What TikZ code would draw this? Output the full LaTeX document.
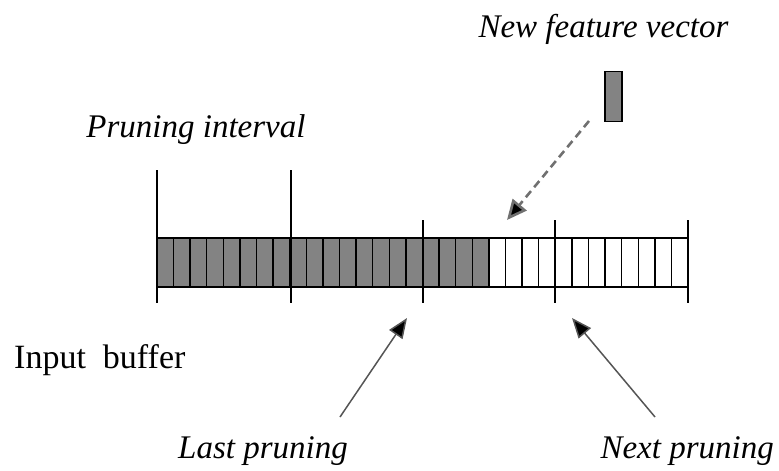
\documentclass[tikz,border=0pt]{standalone}
\usepackage{fontspec}
\setmainfont{Liberation Serif}
\usetikzlibrary{arrows.meta}
\definecolor{cellgray}{HTML}{838383}
\definecolor{arrowgray}{HTML}{555555}
\definecolor{dashgray}{HTML}{707070}
\tikzset{
  label/.style={inner sep=0pt, font=\fontsize{33}{36}\selectfont\itshape},
  plain/.style={inner sep=0pt, font=\fontsize{34}{38}\selectfont},
  tick/.style={line width=1.4pt, black},
  cellline/.style={line width=1.4pt, black},
  pointer/.style={line width=1.5pt, arrowgray, -{Triangle[length=20pt,width=16pt,fill=black]}},
  feedarrow/.style={line width=2.6pt, dashgray, dash pattern=on 8pt off 5pt, -{Triangle[length=20pt,width=18pt,fill=black]}},
}
\begin{document}
\begin{tikzpicture}[x=1pt,y=-1pt]
\useasboundingbox (0,0) rectangle (779,471);
% buffer geometry: 32 slots, 20 already filled
\def\bx{157}\def\bw{16.594}
% filled slots
\fill[cellgray] (\bx,238) rectangle ({\bx+20*\bw},287);
% slot separators
\foreach \i in {1,...,31}
  \draw[cellline] ({\bx+\i*\bw},238) -- ({\bx+\i*\bw},287);
% buffer outline
\draw[line width=2pt] (\bx,238) rectangle (688,287);
% pruning interval ticks
\draw[tick] (157,170) -- (157,303);
\draw[tick] (291,170) -- (291,303);
\draw[tick] (423,220) -- (423,303);
\draw[tick] (555,220) -- (555,303);
\draw[tick] (688,220) -- (688,303);
% incoming feature vector
\node[draw=black, line width=1.8pt, fill=cellgray, minimum width=17pt, minimum height=50pt, inner sep=0pt] (vec) at (613.5,96.5) {};
\coordinate (slot) at (507,220);
\draw[feedarrow] (589,121) -- (slot);
% labels
\node[label, anchor=base] (newvec) at (603.5,37) {New feature vector};
\node[label, anchor=base] (interval) at (196,137) {Pruning interval};
\node[plain, anchor=base west] (buffer) at (14,368) {Input\ \ buffer};
\node[label, anchor=base west] (last) at (178,458) {Last pruning};
\node[label, anchor=base east] (next) at (774,458) {Next pruning};
% pointers to pruning positions
\coordinate (lastpt) at (407,318);
\coordinate (nextpt) at (572,318);
\draw[pointer] (340,417) -- (lastpt);
\draw[pointer] (655,417) -- (nextpt);
\end{tikzpicture}
\end{document}
